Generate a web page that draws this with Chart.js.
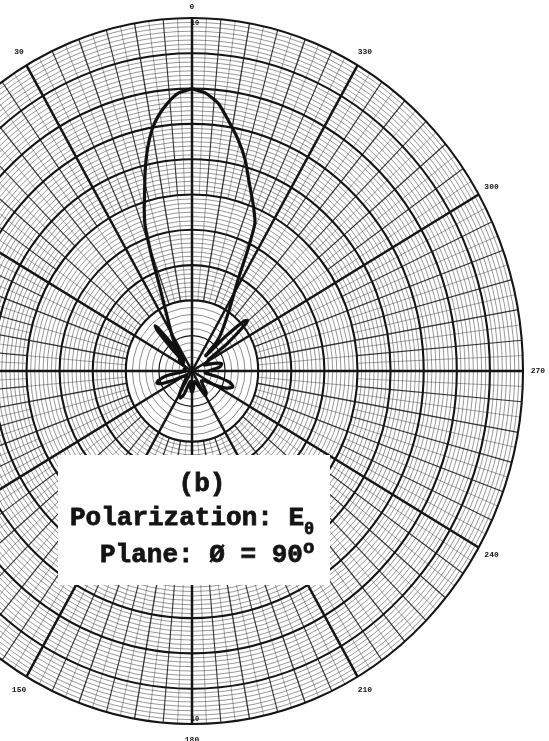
<!DOCTYPE html>
<html>
<head>
<meta charset="utf-8">
<script src="https://cdn.jsdelivr.net/npm/chart.js@4.4.1/dist/chart.umd.min.js"></script>
<style>
  html, body { margin: 0; padding: 0; background: #fff; overflow: hidden; }
</style>
</head>
<body>
<canvas id="pattern" width="549" height="741"></canvas>
<script>
// radiation pattern: angle in degrees (counter-clockwise from top), level on the 0-10 ring scale
const patAngle = [0, 3, 5.5, 8, 10, 12, 14, 16, 17.5, 19,
  20.5, 21.7, 23.5, 26.6, 30, 33, 36, 38, 40, 41,
  42.5, 44, 46, 50, 55, 60, 70, 80, 90, 95,
  100, 105, 108, 111, 115, 120, 130, 140, 150, 155,
  160, 170, 175, 180, 185, 195, 205, 210, 215, 225,
  235, 240, 245, 250, 254, 258, 262, 270, 278, 283,
  288, 295, 300, 303, 306, 309, 310.5, 312, 314, 316,
  318, 320, 323.5, 327, 329.5, 331.7, 332.5, 334, 335.6, 337.5,
  339.5, 342, 345, 348, 351, 354, 357, 360];
const patLevel = [8.0, 7.88, 7.63, 7.3, 6.95, 6.45, 5.85, 5.2, 4.8, 4.35,
  3.5, 2.8, 2.2, 1.62, 1.25, 1.0, 0.4, 0.9, 1.55, 1.7,
  1.55, 0.9, 0.35, 0.5, 0.45, 0.25, 0.2, 0.25, 0.2, 0.3,
  0.8, 1.05, 1.12, 1.0, 0.6, 0.3, 0.2, 0.3, 0.75, 0.85,
  0.7, 0.3, 0.5, 0.6, 0.5, 0.3, 0.5, 0.8, 0.75, 0.4,
  0.5, 0.8, 1.15, 1.32, 1.2, 0.8, 0.4, 0.5, 0.85, 0.92,
  0.7, 0.4, 0.55, 0.6, 1.3, 2.0, 2.2, 2.1, 1.4, 0.6,
  1.1, 1.33, 1.65, 2.06, 2.45, 2.93, 3.2, 3.9, 4.6, 4.9,
  5.2, 5.6, 6.2, 6.7, 7.15, 7.62, 7.88, 8.0];

const angleTicks = [0, 30, 60, 90, 120, 150, 180, 210, 240, 270, 300, 330];
const angleLabels = ["0", "30", "", "", "", "150", "180", "210", "240", "270", "300", "330"];
const ringMax = 10;
const ringMark = "10";
const captionLines = ["(b)", "Polarization: E", "Plane: \u00D8 = 90"];
const captionSub = "\u03B8";
const captionSup = "o";

function toXY(a, r) {
  const t = a * Math.PI / 180;
  return { x: -r * Math.sin(t), y: r * Math.cos(t) };
}

const points = patAngle.map((a, i) => toXY(a, patLevel[i]));

// heavy typewriter-style text
function inkText(ctx, s, x, y) {
  ctx.fillText(s, x, y);
  ctx.strokeText(s, x, y);
}

// polar graph paper, drawn under the pattern
const paper = {
  id: "paper",
  beforeDatasetsDraw(chart) {
    const { ctx, scales: { x, y } } = chart;
    const cx = x.getPixelForValue(0), cy = y.getPixelForValue(0);
    const kx = x.getPixelForValue(1) - cx, ky = cy - y.getPixelForValue(1);
    const at = (a, r) => {
      const p = toXY(a, r);
      return [x.getPixelForValue(p.x), y.getPixelForValue(p.y)];
    };
    const ring = (r, w, col) => {
      ctx.beginPath();
      ctx.ellipse(cx, cy, r * kx, r * ky, 0, 0, Math.PI * 2);
      ctx.lineWidth = w;
      ctx.strokeStyle = col;
      ctx.stroke();
    };
    const spoke = (a, r1, r2, w, col) => {
      const p1 = at(a, r1), p2 = at(a, r2);
      ctx.beginPath();
      ctx.moveTo(p1[0], p1[1]);
      ctx.lineTo(p2[0], p2[1]);
      ctx.lineWidth = w;
      ctx.strokeStyle = col;
      ctx.stroke();
    };

    ctx.save();
    const faint = "rgba(20,20,20,0.55)";
    const mid = "rgba(20,20,20,0.85)";
    const ink = "#151515";

    // fine rings
    for (let i = 1; i < 10; i++) if (i % 5) ring(i * 0.2, 0.9, faint);
    for (let i = 17; i < 80; i++) if (i % 8) ring(i * 0.125, 0.8, faint);

    // fine spokes
    for (let i = 0; i < 144; i++) {
      if (i % 2) spoke(i * 2.5, 5, ringMax, 0.7, faint);
    }
    for (let i = 0; i < 72; i++) {
      if (i % 2) {
        spoke(i * 5, 2, 5, 0.7, faint);
        spoke(i * 5, 5, ringMax, 1.1, mid);
      }
    }
    for (let i = 0; i < 36; i++) {
      if (i % 3) spoke(i * 10, 2, ringMax, 1.3, mid);
    }
    angleTicks.forEach(a => spoke(a, 0, ringMax, 2.5, ink));

    // main rings
    for (let r = 1; r <= ringMax; r++) ring(r, r === 1 ? 1.2 : 2.1, ink);

    // angle labels around the rim
    ctx.fillStyle = ink;
    ctx.textAlign = "center";
    ctx.textBaseline = "middle";
    ctx.font = "bold 8px 'Liberation Mono'";
    angleTicks.forEach((a, i) => {
      if (!angleLabels[i]) return;
      const p = at(a, ringMax * (a === 0 ? 1.03 : 1.045));
      ctx.fillText(angleLabels[i], p[0], p[1]);
    });
    ctx.font = "bold 7px 'Liberation Mono'";
    [0, 180].forEach(a => {
      const p = at(a, 9.86);
      ctx.fillText(ringMark, p[0] + 3, p[1]);
    });
    ctx.restore();
  },
  afterDatasetsDraw(chart) {
    const { ctx } = chart;
    ctx.save();
    ctx.fillStyle = "#fff";
    ctx.fillRect(58, 455, 272, 130);
    ctx.fillStyle = "#141414";
    ctx.strokeStyle = "#141414";
    ctx.lineWidth = 0.8;
    ctx.textBaseline = "alphabetic";
    ctx.font = "bold 26px 'Liberation Mono'";
    ctx.textAlign = "center";
    inkText(ctx, captionLines[0], 202, 491);
    ctx.textAlign = "left";
    inkText(ctx, captionLines[1], 70, 525);
    inkText(ctx, captionLines[2], 100, 562);
    ctx.font = "bold 17px 'Liberation Mono'";
    inkText(ctx, captionSub, 304, 534);
    ctx.font = "bold 19px 'Liberation Mono'";
    inkText(ctx, captionSup, 303, 553);
    ctx.restore();
  }
};

new Chart(document.getElementById("pattern"), {
  type: "scatter",
  data: {
    datasets: [{
      data: points,
      showLine: true,
      borderColor: "#111",
      borderWidth: 3.2,
      pointRadius: 0,
      tension: 0.2
    }]
  },
  options: {
    responsive: false,
    animation: false,
    layout: { padding: 0 },
    plugins: { legend: { display: false }, tooltip: { enabled: false } },
    scales: {
      x: { display: false, min: -192 / 33.1, max: 357 / 33.1 },
      y: { display: false, min: -370 / 35.3, max: 371 / 35.3 }
    }
  },
  plugins: [paper]
});
</script>
</body>
</html>
